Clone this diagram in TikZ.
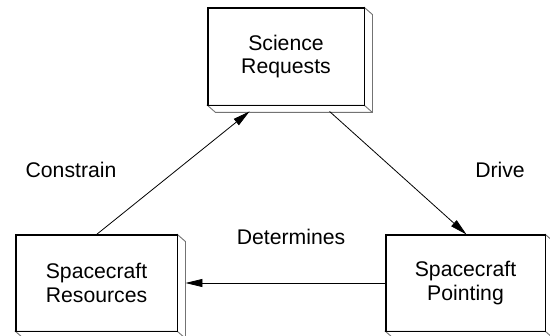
\documentclass[tikz,border=0pt]{standalone}
\usepackage{fontspec}
\setmainfont{Liberation Sans}
\usetikzlibrary{arrows.meta,calc}

\tikzset{
  face/.style={draw=black, line width=0.9pt, fill=white, inner sep=0pt,
    align=center, font=\fontsize{21.2}{23.5}\selectfont},
  bevel/.style={draw=black!55, line width=0.9pt, fill=white, line join=miter},
  link/.style={draw=black, line width=0.8pt,
    -{Triangle[length=17pt,width=8pt]}},
  tag/.style={font=\fontsize{21.2}{23.5}\selectfont, anchor=base, inner sep=0pt}
}

% a box with a slanted right and bottom side
\newcommand{\slabbox}[1]{%
  \path[bevel] (#1.north east) -- ++(8,7) -- ($(#1.south east)+(8,7)$)
    -- ($(#1.south west)+(8,7)$) -- (#1.south west) -- (#1.south east) -- cycle;
  \draw[black!55, line width=0.9pt] (#1.south east) -- ++(8,7);
  \draw[black, line width=0.9pt] (#1.north west) rectangle (#1.south east);
}

\begin{document}
\begin{tikzpicture}[x=1pt, y=-1pt]
  \useasboundingbox (0,0) rectangle (550,336);

  \node[face, minimum width=156pt, minimum height=97pt] (sci) at (286,56.5)
    {Science\\Requests};
  \node[face, minimum width=161pt, minimum height=96pt] (res) at (96.5,283)
    {Spacecraft\\Resources};
  \node[face, minimum width=159pt, minimum height=96pt] (pnt) at (465.5,283)
    {Spacecraft\\Pointing};

  \slabbox{sci}
  \slabbox{res}
  \slabbox{pnt}

  % attachment points on the slanted sides
  \coordinate (sciIn)  at ($(sci.south west)+(42,6)$);
  \coordinate (sciOut) at ($(sci.south west)+(122,6)$);
  \coordinate (pntIn)  at ($(pnt.north west)+(81,0)$);
  \coordinate (resIn)  at ($(res.east)+(8,0)$);

  \draw[link] (res.north) -- (sciIn);
  \draw[link] (sciOut) -- (pntIn);
  \draw[link] (pnt.west) -- (resIn);

  \node[tag] (lc) at (71,178)  {Constrain};
  \node[tag] (ld) at (500,178) {Drive};
  \node[tag] (le) at (291,245) {Determines};
\end{tikzpicture}
\end{document}
